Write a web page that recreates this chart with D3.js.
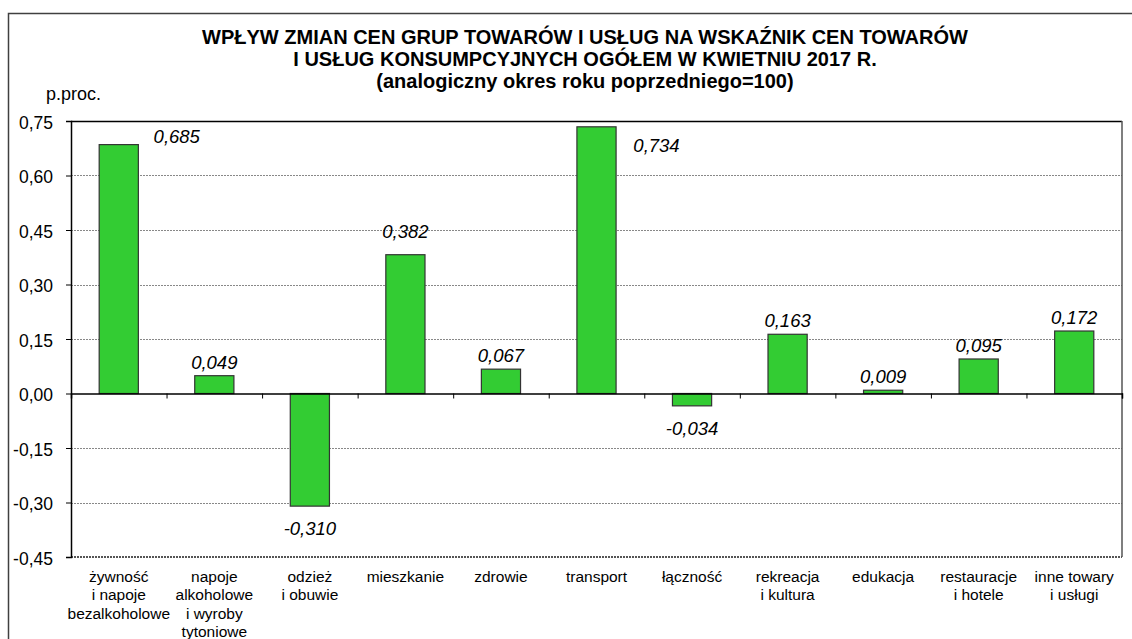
<!DOCTYPE html>
<html>
<head>
<meta charset="utf-8">
<script src="https://d3js.org/d3.v7.min.js"></script>
<style>
  body { margin: 0; background: #fff; }
  svg text { font-family: "Liberation Sans", Arial, sans-serif; fill: #000; }
</style>
</head>
<body>
<script>
    // data
    var categories = [
        "żywność\ni napoje\nbezalkoholowe",
        "napoje\nalkoholowe\ni wyroby\ntytoniowe",
        "odzież\ni obuwie",
        "mieszkanie",
        "zdrowie",
        "transport",
        "łączność",
        "rekreacja\ni kultura",
        "edukacja",
        "restauracje\ni hotele",
        "inne towary\ni usługi"
    ];
    var values = [0.685, 0.049, -0.310, 0.382, 0.067, 0.734, -0.034, 0.163, 0.009, 0.095, 0.172];
    var yTicks = [-0.45, -0.30, -0.15, 0.00, 0.15, 0.30, 0.45, 0.60, 0.75];
    var titleLines = [
        "WPŁYW ZMIAN CEN GRUP TOWARÓW I USŁUG NA WSKAŹNIK CEN TOWARÓW",
        "I USŁUG KONSUMPCYJNYCH OGÓŁEM W KWIETNIU 2017 R.",
        "(analogiczny okres roku poprzedniego=100)"
    ];
    var unitLabel = "p.proc.";

    var W = 1132, H = 639;
    var margin = { top: 121, right: 10, bottom: 82, left: 71 },
        width = 1122 - margin.left,
        height = H - margin.top - margin.bottom;

    var pl = d3.formatLocale({ decimal: ",", thousands: " ", grouping: [3], currency: ["", " zł"], minus: "-" });
    var fmtTick = pl.format(".2f"), fmtVal = pl.format(".3f");

    var svg = d3.select("body").append("svg")
        .attr("width", W)
        .attr("height", H);

    // outer frame
    svg.append("rect")
        .attr("x", 8.5).attr("y", 13.5)
        .attr("width", 1140).attr("height", 650)
        .attr("fill", "none")
        .attr("stroke", "#404040")
        .attr("stroke-width", 1.5);

    var g = svg.append("g")
        .attr("transform", "translate(" + margin.left + "," + margin.top + ")");

    var x = d3.scaleBand()
        .domain(d3.range(categories.length))
        .range([0, width])
        .paddingInner(0.59)
        .paddingOuter(0.295);

    var y = d3.scaleLinear()
        .domain([-0.45, 0.75])
        .range([height, 0]);

    // gridlines
    g.selectAll(".grid")
        .data(yTicks.filter(function (d) { return d !== 0 && d !== 0.75 && d !== -0.45; }))
        .enter().append("line")
        .attr("x1", 0).attr("x2", width)
        .attr("y1", function (d) { return Math.round(y(d)) + 0.5; })
        .attr("y2", function (d) { return Math.round(y(d)) + 0.5; })
        .attr("stroke", "#888")
        .attr("stroke-width", 1)
        .attr("stroke-dasharray", "2,1");

    // plot frame
    g.append("line").attr("x1", 0).attr("x2", width).attr("y1", 0.5).attr("y2", 0.5)
        .attr("stroke", "#000").attr("stroke-width", 1.5);
    g.append("line").attr("x1", width).attr("x2", width).attr("y1", 0).attr("y2", height)
        .attr("stroke", "#555").attr("stroke-width", 1.5);
    g.append("line").attr("x1", 0).attr("x2", width).attr("y1", height).attr("y2", height)
        .attr("stroke", "#555").attr("stroke-width", 2).attr("stroke-dasharray", "2,1");

    // bars
    g.selectAll(".bar")
        .data(values)
        .enter().append("rect")
        .attr("x", function (d, i) { return x(i); })
        .attr("width", x.bandwidth())
        .attr("y", function (d) { return y(Math.max(0, d)); })
        .attr("height", function (d) { return Math.abs(y(d) - y(0)); })
        .attr("fill", "#33cc33")
        .attr("stroke", "#333")
        .attr("stroke-width", 1.2);

    // y axis
    var yAxis = g.append("g")
        .call(d3.axisLeft(y).tickValues(yTicks).tickFormat(fmtTick).tickSize(5).tickPadding(13));
    yAxis.select(".domain").attr("stroke", "#000").attr("stroke-width", 1.5);
    yAxis.selectAll(".tick line").attr("stroke", "#000");
    yAxis.selectAll(".tick text")
        .attr("font-size", "17.5px")
        .attr("font-family", "Liberation Sans, Arial, sans-serif")
        .attr("dy", "0.4em");

    // zero line with category ticks
    var xAxis = g.append("g")
        .attr("transform", "translate(0," + y(0) + ")")
        .call(d3.axisBottom(d3.scaleLinear().domain([0, categories.length]).range([0, width]))
            .tickValues(d3.range(0, categories.length + 1)).tickSize(5).tickFormat(""));
    xAxis.select(".domain").attr("stroke", "#000").attr("stroke-width", 1.5);
    xAxis.selectAll(".tick line").attr("stroke", "#000");

    // category labels
    var cat = g.selectAll(".cat")
        .data(categories)
        .enter().append("text")
        .attr("text-anchor", "middle")
        .attr("font-size", "15.5px")
        .attr("transform", function (d, i) {
            return "translate(" + (x(i) + x.bandwidth() / 2) + "," + (height + 25) + ")";
        });
    cat.selectAll("tspan")
        .data(function (d) { return d.split("\n"); })
        .enter().append("tspan")
        .attr("x", 0)
        .attr("y", function (d, i) { return i * 18.3; })
        .text(function (d) { return d; });

    // value labels (Excel moves a few of them aside)
    var labelShift = { 0: { dx: 58, dy: -2 }, 3: { dx: 0, dy: -17 }, 5: { dx: 60, dy: 25 } };
    g.selectAll(".val")
        .data(values)
        .enter().append("text")
        .attr("text-anchor", "middle")
        .attr("font-size", "18.5px")
        .attr("font-style", "italic")
        .attr("x", function (d, i) {
            var s = labelShift[i];
            return x(i) + x.bandwidth() / 2 + (s ? s.dx : 0);
        })
        .attr("y", function (d, i) {
            var s = labelShift[i];
            if (s) return y(d) + s.dy;
            return d >= 0 ? y(d) - 7 : y(d) + 29;
        })
        .text(function (d) { return fmtVal(d); });

    // unit label
    svg.append("text")
        .attr("x", 46).attr("y", 100)
        .attr("font-size", "18px")
        .text(unitLabel);

    // title
    svg.selectAll(".title")
        .data(titleLines)
        .enter().append("text")
        .attr("x", 585)
        .attr("y", function (d, i) { return 44 + i * 22; })
        .attr("text-anchor", "middle")
        .attr("font-size", "20px")
        .attr("font-weight", "bold")
        .text(function (d) { return d; });
</script>
</body>
</html>
